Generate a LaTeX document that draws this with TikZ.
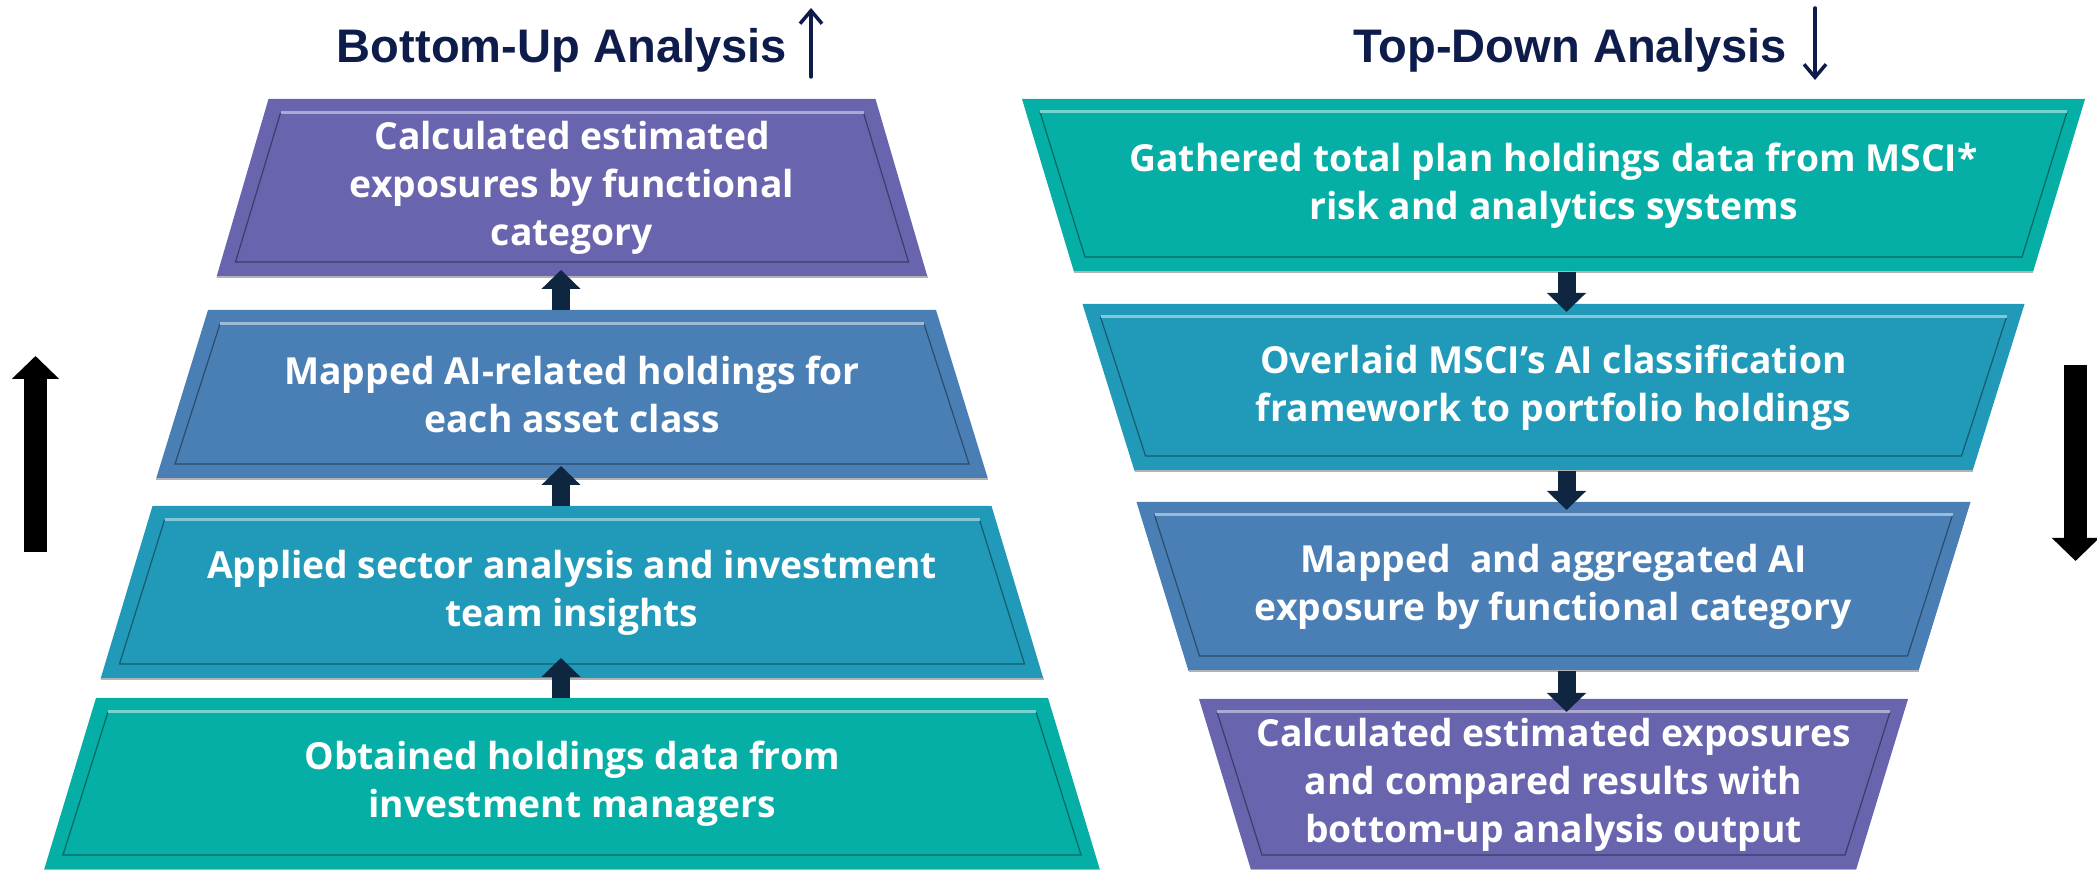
\documentclass[tikz,border=0pt]{standalone}
\usepackage{fontspec}
\setmainfont{Open Sans}
\setsansfont{Liberation Sans}
\usetikzlibrary{positioning,calc,arrows.meta,backgrounds}

\definecolor{cpurple}{RGB}{105,100,174}
\definecolor{csteel}{RGB}{74,127,181}
\definecolor{cblue}{RGB}{33,153,184}
\definecolor{cteal}{RGB}{5,175,165}
\definecolor{cnavy}{RGB}{14,28,75}
\definecolor{cdark}{RGB}{15,38,64}

\begin{document}
\begin{tikzpicture}
  \tikzset{
    stage/.style={rectangle,inner sep=0pt,outer sep=0pt,align=center,text=white,
      font=\bfseries\fontsize{10.6}{13.7}\selectfont},
    title/.style={inner sep=0pt,text=cnavy,font=\sffamily\bfseries\fontsize{13.4}{16}\selectfont},
    flow/.style={draw=cdark,line width=0.18cm,-{Triangle[width=0.38cm,length=0.19cm]}},
    bigflow/.style={draw=black,line width=0.23cm,-{Triangle[width=0.46cm,length=0.23cm]}},
    thinflow/.style={draw=cnavy,line width=0.035cm,line cap=round,-{Straight Barb[width=0.22cm,length=0.13cm]}}
  }
  \useasboundingbox (0,0) rectangle (20.97,8.70);

  % titles
  \node[title,anchor=base] (butitle) at (5.62,8.07) {Bottom-Up Analysis};
  \node[title,anchor=base] (tdtitle) at (15.70,8.07) {Top-Down Analysis};
  \coordinate (bufoot) at (8.11,7.93);
  \coordinate (buhead) at (8.11,8.62);
  \coordinate (tdfoot) at (18.15,8.62);
  \coordinate (tdhead) at (18.15,7.90);
  \draw[thinflow] (bufoot) -- (buhead);
  \draw[thinflow] (tdfoot) -- (tdhead);

  % bottom-up column
  \node[stage,minimum width=6.07cm,minimum height=1.78cm] (l1) at (5.72,6.82)
    {Calculated estimated\\exposures by functional\\category};
  \node[stage,minimum width=7.28cm,minimum height=1.69cm,below=0.33cm of l1] (l2)
    {Mapped AI-related holdings for\\each asset class};
  \node[stage,minimum width=8.39cm,minimum height=1.73cm,below=0.27cm of l2] (l3)
    {Applied sector analysis and investment\\team insights};
  \node[stage,minimum width=9.52cm,minimum height=1.72cm,below=0.19cm of l3] (l4)
    {Obtained holdings data from\\investment managers};

  % top-down column
  \node[stage,minimum width=9.59cm,minimum height=1.73cm] (r1) at (15.535,6.845)
    {Gathered total plan holdings data from MSCI*\\risk and analytics systems};
  \node[stage,minimum width=8.38cm,minimum height=1.67cm,below=0.32cm of r1] (r2)
    {Overlaid MSCI’s AI classification\\framework to portfolio holdings};
  \node[stage,minimum width=7.30cm,minimum height=1.69cm,below=0.31cm of r2] (r3)
    {Mapped\ \ and aggregated AI\\exposure by functional category};
  \node[stage,minimum width=6.05cm,minimum height=1.71cm,below=0.28cm of r3] (r4)
    {Calculated estimated exposures\\and compared results with\\bottom-up analysis output};

  \begin{scope}[on background layer]
    \foreach \n/\c in {l1/cpurple,l2/csteel,l3/cblue,l4/cteal}{
      \fill[\c] (\n.north west) -- (\n.north east) -- ([xshift=0.52cm]\n.south east)
        -- ([xshift=-0.52cm]\n.south west) -- cycle;
      \draw[black!30,line width=0.012cm] ([xshift=0.52cm]\n.south east) -- ([xshift=-0.52cm]\n.south west);
      \draw[\c!60!black,line width=0.012cm] ([shift={(0.12,-0.14)}]\n.north west)
        -- ([shift={(-0.33,0.15)}]\n.south west) -- ([shift={(0.33,0.15)}]\n.south east)
        -- ([shift={(-0.12,-0.14)}]\n.north east);
      \draw[\c!55!white,line width=0.03cm] ([shift={(0.12,-0.14)}]\n.north west)
        -- ([shift={(-0.12,-0.14)}]\n.north east);
    }
    \foreach \n/\c in {r1/cteal,r2/cblue,r3/csteel,r4/cpurple}{
      \fill[\c] ([xshift=-0.52cm]\n.north west) -- ([xshift=0.52cm]\n.north east)
        -- (\n.south east) -- (\n.south west) -- cycle;
      \draw[black!30,line width=0.012cm] (\n.south east) -- (\n.south west);
      \draw[\c!60!black,line width=0.012cm] ([shift={(-0.34,-0.13)}]\n.north west)
        -- ([shift={(0.11,0.15)}]\n.south west) -- ([shift={(-0.11,0.15)}]\n.south east)
        -- ([shift={(0.34,-0.13)}]\n.north east);
      \draw[\c!55!white,line width=0.03cm] ([shift={(-0.34,-0.13)}]\n.north west)
        -- ([shift={(0.34,-0.13)}]\n.north east);
    }
  \end{scope}

  % step arrows
  \draw[flow] ([xshift=-0.11cm]l2.north) -- ([xshift=-0.11cm,yshift=0.07cm]l1.south);
  \draw[flow] ([xshift=-0.11cm]l3.north) -- ([xshift=-0.11cm,yshift=0.13cm]l2.south);
  \draw[flow] ([xshift=-0.11cm]l4.north) -- ([xshift=-0.11cm,yshift=0.21cm]l3.south);
  \draw[flow] ([xshift=0.13cm]r1.south) -- ([xshift=0.13cm,yshift=-0.08cm]r2.north);
  \draw[flow] ([xshift=0.13cm]r2.south) -- ([xshift=0.13cm,yshift=-0.08cm]r3.north);
  \draw[flow] ([xshift=0.13cm]r3.south) -- ([xshift=0.13cm,yshift=-0.13cm]r4.north);

  % side arrows
  \coordinate (upfoot) at (0.355,3.18);
  \coordinate (uphead) at (0.355,5.14);
  \coordinate (downfoot) at (20.755,5.05);
  \coordinate (downhead) at (20.755,3.09);
  \draw[bigflow] (upfoot) -- (uphead);
  \draw[bigflow] (downfoot) -- (downhead);
\end{tikzpicture}
\end{document}
